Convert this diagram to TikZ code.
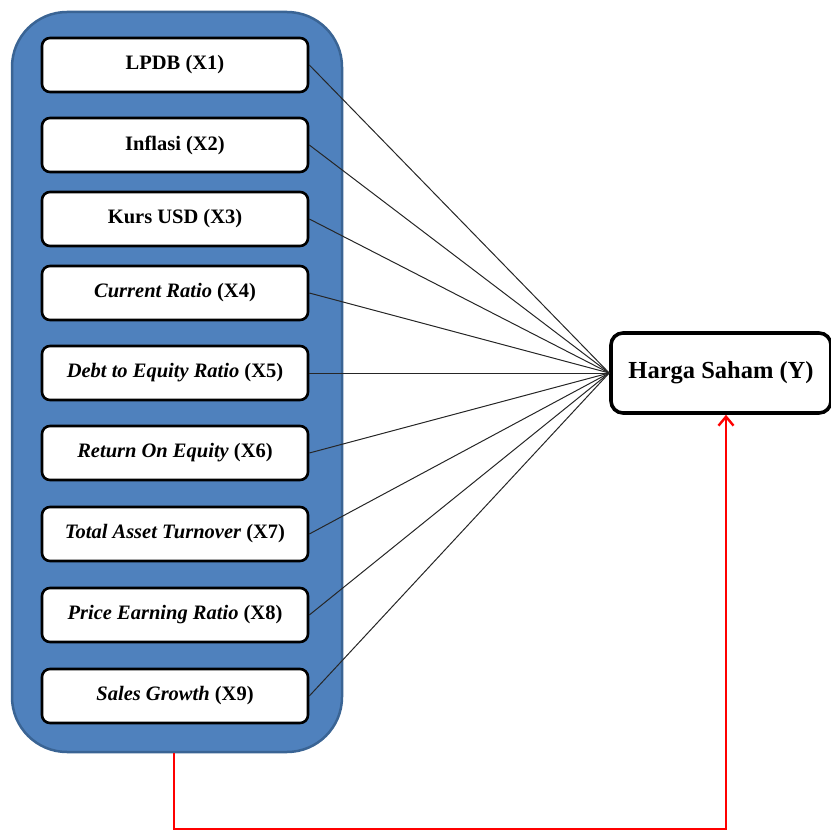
\documentclass[tikz,border=0pt]{standalone}
\usepackage{fontspec}
\setmainfont{Liberation Serif}
\usetikzlibrary{arrows.meta}
\definecolor{panelblue}{HTML}{4F81BD}
\definecolor{paneledge}{HTML}{3A6494}
\tikzset{
  xbox/.style={draw=black, line width=2.6pt, fill=white, rounded corners=8pt,
    minimum width=266pt, minimum height=54pt, inner sep=0pt,
    font=\fontsize{20.5}{24}\selectfont\bfseries},
  ybox/.style={draw=black, line width=3.6pt, fill=white, rounded corners=12pt,
    minimum width=220pt, minimum height=80pt, inner sep=0pt,
    font=\fontsize{24.5}{28}\selectfont\bfseries},
  link/.style={draw=black!85, line width=1pt},
  redlink/.style={draw=red, line width=2.6pt, -{Straight Barb[length=9pt,width=15pt,line width=2.4pt]}}
}
\begin{document}
\begin{tikzpicture}[x=1pt,y=-1pt]
\useasboundingbox (0,0) rectangle (830,832);
\node[draw=paneledge, line width=2.5pt, fill=panelblue, rounded corners=55pt,
  minimum width=330pt, minimum height=740pt, inner sep=0pt] (panel) at (177,382) {};
\node[xbox] (x1) at (175,65) {LPDB (X1)};
\node[xbox] (x2) at (175,145) {Inflasi (X2)};
\node[xbox] (x3) at (175,219) {Kurs USD (X3)};
\node[xbox] (x4) at (175,293) {\textit{Current Ratio} (X4)};
\node[xbox] (x5) at (175,373) {\textit{Debt to Equity Ratio} (X5)};
\node[xbox] (x6) at (175,453) {\textit{Return On Equity} (X6)};
\node[xbox] (x7) at (175,534) {\textit{Total Asset Turnover} (X7)};
\node[xbox] (x8) at (175,615) {\textit{Price Earning Ratio} (X8)};
\node[xbox] (x9) at (175,696) {\textit{Sales Growth} (X9)};
\node[ybox] (y) at (721,373) {Harga Saham (Y)};
\coordinate (c) at (y.west);
\foreach \i in {1,...,9} { \draw[link] (x\i.east) -- (c); }
\coordinate (r1) at (174,829);
\coordinate (r2) at (726,829);
\draw[redlink] (panel.south -| r1) -- (r1) -- (r2) -- (y.south -| r2);
\end{tikzpicture}
\end{document}
